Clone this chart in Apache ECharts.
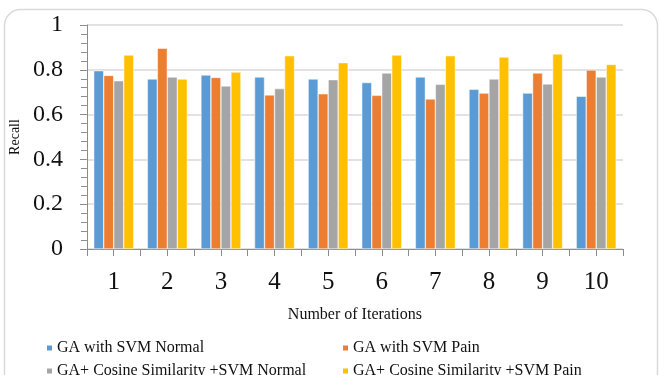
<!DOCTYPE html>
<html>
<head>
<meta charset="utf-8">
<script src="https://cdn.jsdelivr.net/npm/echarts@6/dist/echarts.min.js"></script>
<style>
  html, body { margin: 0; padding: 0; background: #fff; }
  #chart { width: 659px; height: 375px; }
</style>
</head>
<body>
<div id="chart"></div>
<script>
// Recall per iteration for the four classifier variants
const iterations = ['1', '2', '3', '4', '5', '6', '7', '8', '9', '10'];
const seriesNames = [
  'GA with SVM Normal',
  'GA with SVM Pain',
  'GA+ Cosine Similarity +SVM Normal',
  'GA+ Cosine Similarity +SVM Pain'
];
const gaSvmNormal    = [0.796, 0.759, 0.777, 0.768, 0.759, 0.743, 0.768, 0.713, 0.696, 0.682];
const gaSvmPain      = [0.775, 0.896, 0.766, 0.688, 0.693, 0.686, 0.670, 0.696, 0.786, 0.799];
const gaCosSvmNormal = [0.751, 0.768, 0.728, 0.716, 0.756, 0.786, 0.735, 0.759, 0.737, 0.768];
const gaCosSvmPain   = [0.866, 0.759, 0.790, 0.863, 0.832, 0.866, 0.863, 0.857, 0.871, 0.824];
const seriesValues = [gaSvmNormal, gaSvmPain, gaCosSvmNormal, gaCosSvmPain];
const colors = ['#5B9BD5', '#ED7D31', '#A5A5A5', '#FFC000'];

const serif = '"Liberation Serif", "Times New Roman", serif';
const axisGray = '#8c8c8c';
const textColor = '#111111';

// plot area
const gridLeft = 86, gridRight = 36, gridTop = 25, gridBottom = 126;
const plotW = 659 - gridLeft - gridRight;
const plotH = 375 - gridTop - gridBottom;

// tick marks every half category: a blank axis with one slot per half step
const halfSteps = Array.from({ length: iterations.length * 2 + 1 }, () => '');

// legend slots: two columns, two rows
const legendSlots = [
  { left: 45, top: 340 },
  { left: 341, top: 340 },
  { left: 45, top: 363 },
  { left: 341, top: 363 }
];

const chart = echarts.init(document.getElementById('chart'), null, { renderer: 'canvas' });

chart.setOption({
  animation: false,
  color: colors,
  graphic: [{
    type: 'rect',
    shape: { x: 4.5, y: 9.5, width: 653, height: 380, r: 16 },
    style: { fill: 'none', stroke: '#d9d9d9', lineWidth: 1.5 },
    silent: true,
    z: -1
  }],
  grid: { left: gridLeft, right: gridRight, top: gridTop, bottom: gridBottom },
  legend: seriesNames.map((name, i) => ({
    left: legendSlots[i].left,
    top: legendSlots[i].top,
    data: [name],
    icon: 'rect', itemWidth: 7, itemHeight: 7,
    padding: 0,
    textStyle: { fontFamily: serif, fontSize: 16, color: textColor, padding: [0, 0, 0, -1] }
  })),
  xAxis: [
    {
      type: 'category',
      data: iterations,
      name: 'Number of Iterations',
      nameLocation: 'middle',
      nameGap: 58,
      nameTextStyle: { fontFamily: serif, fontSize: 16, color: textColor },
      axisLine: { show: true, lineStyle: { color: axisGray } },
      axisTick: { show: false },
      axisLabel: { fontFamily: serif, fontSize: 25, color: textColor, margin: 21 },
      splitLine: { show: false }
    },
    {
      // half-category tick marks, shifted down onto the bottom axis line
      type: 'category',
      data: halfSteps,
      boundaryGap: false,
      position: 'top',
      offset: -plotH,
      axisLine: { show: false },
      axisTick: { show: true, inside: true, interval: 0, length: 7, lineStyle: { color: axisGray } },
      axisLabel: { show: false },
      splitLine: { show: false }
    }
  ],
  yAxis: [
    {
      type: 'value',
      min: 0, max: 1, interval: 0.2,
      name: 'Recall',
      nameLocation: 'middle',
      nameGap: 59,
      nameTextStyle: { fontFamily: serif, fontSize: 14, color: textColor },
      axisLine: { show: true, lineStyle: { color: axisGray } },
      axisTick: { show: true, length: 6, lineStyle: { color: axisGray } },
      minorTick: { show: true, splitNumber: 5, length: 3, lineStyle: { color: axisGray } },
      axisLabel: {
        fontFamily: serif, fontSize: 24, color: textColor, margin: 24,
        formatter: v => String(Math.round(v * 10) / 10)
      },
      splitLine: { show: true, lineStyle: { color: '#d9d9d9', width: 1.5 } }
    },
    {
      // inward half of the crossing tick marks, shifted onto the left axis line
      type: 'value',
      position: 'right',
      offset: -plotW,
      min: 0, max: 1, interval: 0.2,
      axisLine: { show: false },
      axisTick: { show: true, inside: true, length: 6, lineStyle: { color: axisGray } },
      minorTick: { show: true, splitNumber: 5, length: 5, lineStyle: { color: axisGray } },
      axisLabel: { show: false },
      splitLine: { show: false }
    }
  ],
  series: seriesNames.map((name, i) => ({
    name: name,
    type: 'bar',
    xAxisIndex: 0,
    yAxisIndex: 0,
    data: seriesValues[i],
    barWidth: 10,
    barGap: '0%',
    itemStyle: { color: colors[i], borderColor: '#ffffff', borderWidth: 0.5 }
  }))
});
</script>
</body>
</html>
